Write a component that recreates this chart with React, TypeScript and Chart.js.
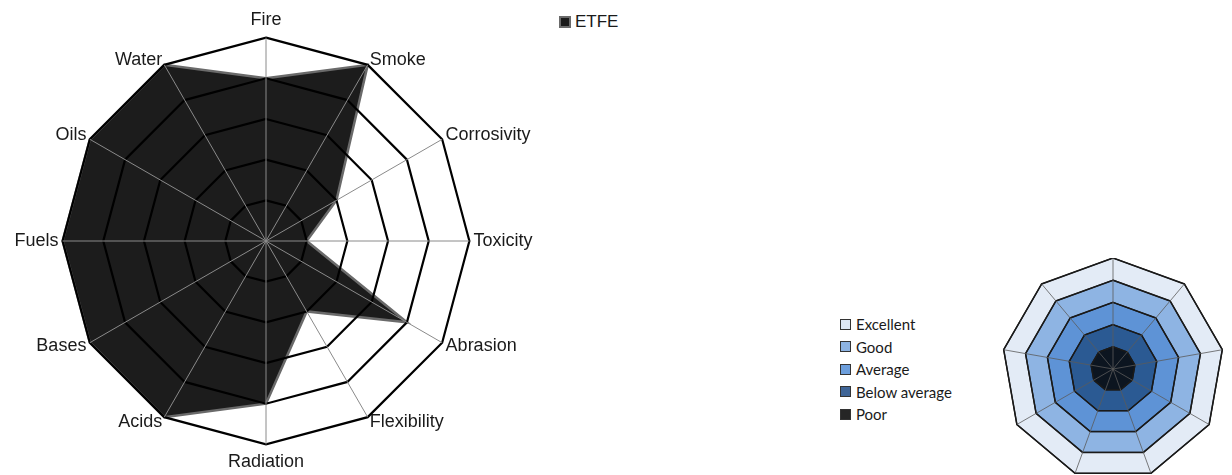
import React, { useEffect, useRef } from "react";
import { Chart, registerables } from "chart.js";

Chart.register(...registerables);

const categories = [
  "Fire", "Smoke", "Corrosivity", "Toxicity", "Abrasion", "Flexibility",
  "Radiation", "Acids", "Bases", "Fuels", "Oils", "Water",
];
const etfeValues = [4, 5, 2, 1, 4, 2, 4, 5, 5, 5, 5, 5];
const seriesName = "ETFE";

const ratingLabels = ["Excellent", "Good", "Average", "Below average", "Poor"];
const ratingLevels = [5, 4, 3, 2, 1];
const ratingColors = ["#e3ebf6", "#8eb4e3", "#5e93d6", "#2b5a93", "#0c1520"];
const ratingBoxColors = ["#dde7f4", "#8db3e2", "#6c9edc", "#3f6597", "#262626"];
const keySpokes = ["", "", "", "", "", "", "", "", ""];

// Centers the slanted point labels vertically on their spoke ends.
const labelNudge = {
  id: "labelNudge",
  afterLayout(chart: any) {
    const s: any = chart.scales.r;
    const items = s && s._pointLabelItems;
    if (!items) return;
    const n = items.length;
    items.forEach((it: any, i: number) => {
      const a = (i / n) * 360;
      let dy = 0;
      if (a === 0) dy = -3;
      else if (a === 180) dy = 3;
      else if (a < 90 || a > 270) dy = 9;
      else if (a > 90 && a < 270) dy = -9;
      it.y += dy;
      it.top += dy;
      it.bottom += dy;
    });
  },
};

function MainRadar() {
  const ref = useRef<HTMLCanvasElement | null>(null);
  useEffect(() => {
    if (!ref.current) return;
    const chart = new Chart(ref.current, {
      type: "radar",
      data: {
        labels: categories,
        datasets: [
          {
            label: seriesName,
            data: etfeValues,
            backgroundColor: "#1c1c1c",
            borderColor: "#6a6a6a",
            borderWidth: 2.5,
            pointRadius: 0,
            fill: true,
          },
        ],
      },
      options: {
        animation: false,
        responsive: false,
        maintainAspectRatio: false,
        plugins: { legend: { display: false }, tooltip: { enabled: false } },
        layout: { padding: { top: 10, bottom: 4, left: 0, right: 0 } },
        scales: {
          r: {
            min: 0,
            max: 5,
            ticks: { stepSize: 1, display: false },
            grid: { z: 1, color: "#000", lineWidth: 2.2, circular: false },
            angleLines: { color: "#8a8a8a", lineWidth: 1 },
            pointLabels: {
              color: "#1a1a1a",
              padding: 4,
              font: { family: "Liberation Sans", size: 18 },
            },
          },
        },
      },
      plugins: [labelNudge],
    });
    return () => chart.destroy();
  }, []);
  return (
    <canvas
      ref={ref}
      width={560}
      height={472}
      style={{ position: "absolute", left: -7, top: 3, width: 560, height: 472 }}
    />
  );
}

function KeyRadar() {
  const ref = useRef<HTMLCanvasElement | null>(null);
  useEffect(() => {
    if (!ref.current) return;
    const chart = new Chart(ref.current, {
      type: "radar",
      data: {
        labels: keySpokes,
        datasets: ratingLevels.map((lvl, i) => ({
          label: ratingLabels[i],
          data: keySpokes.map(() => lvl),
          backgroundColor: ratingColors[i],
          borderColor: "#1a1a1a",
          borderWidth: 1.5,
          pointRadius: 0,
          fill: true,
          order: 5 - i,
        })),
      },
      options: {
        animation: false,
        responsive: false,
        maintainAspectRatio: false,
        plugins: { legend: { display: false }, tooltip: { enabled: false } },
        layout: { padding: 0 },
        scales: {
          r: {
            min: 0,
            max: 5,
            ticks: { stepSize: 1, display: false },
            grid: { z: 1, color: "#1a1a1a", lineWidth: 1.3, circular: false },
            angleLines: { color: "#5a5a5a", lineWidth: 0.8 },
            pointLabels: { display: false },
          },
        },
      },
    });
    return () => chart.destroy();
  }, []);
  return (
    <canvas
      ref={ref}
      width={222}
      height={222}
      style={{ position: "absolute", left: 1002, top: 258, width: 222, height: 222 }}
    />
  );
}

export default function App() {
  return (
    <div
      style={{
        position: "fixed",
        left: 0,
        top: 0,
        width: 1232,
        height: 475,
        background: "#fff",
        overflow: "hidden",
      }}
    >
      <MainRadar />
      <div
        style={{
          position: "absolute",
          left: 559,
          top: 12,
          display: "flex",
          alignItems: "center",
          fontFamily: "Liberation Sans",
          fontSize: 17,
          color: "#1a1a1a",
        }}
      >
        <span
          style={{
            display: "inline-block",
            width: 8,
            height: 8,
            background: "#1b1b1b",
            border: "2px solid #6a6a6a",
            marginRight: 4,
          }}
        />
        {seriesName}
      </div>
      <KeyRadar />
      <div
        style={{
          position: "absolute",
          left: 840,
          top: 313,
          fontFamily: "Lato",
          fontSize: 15,
          color: "#1a1a1a",
        }}
      >
        {ratingLabels.map((lab, i) => (
          <div
            key={lab}
            style={{ display: "flex", alignItems: "center", height: 22.5 }}
          >
            <span
              style={{
                display: "inline-block",
                width: 9,
                height: 9,
                background: ratingBoxColors[i],
                border: "1px solid #333",
                marginRight: 5,
              }}
            />
            {lab}
          </div>
        ))}
      </div>
    </div>
  );
}
